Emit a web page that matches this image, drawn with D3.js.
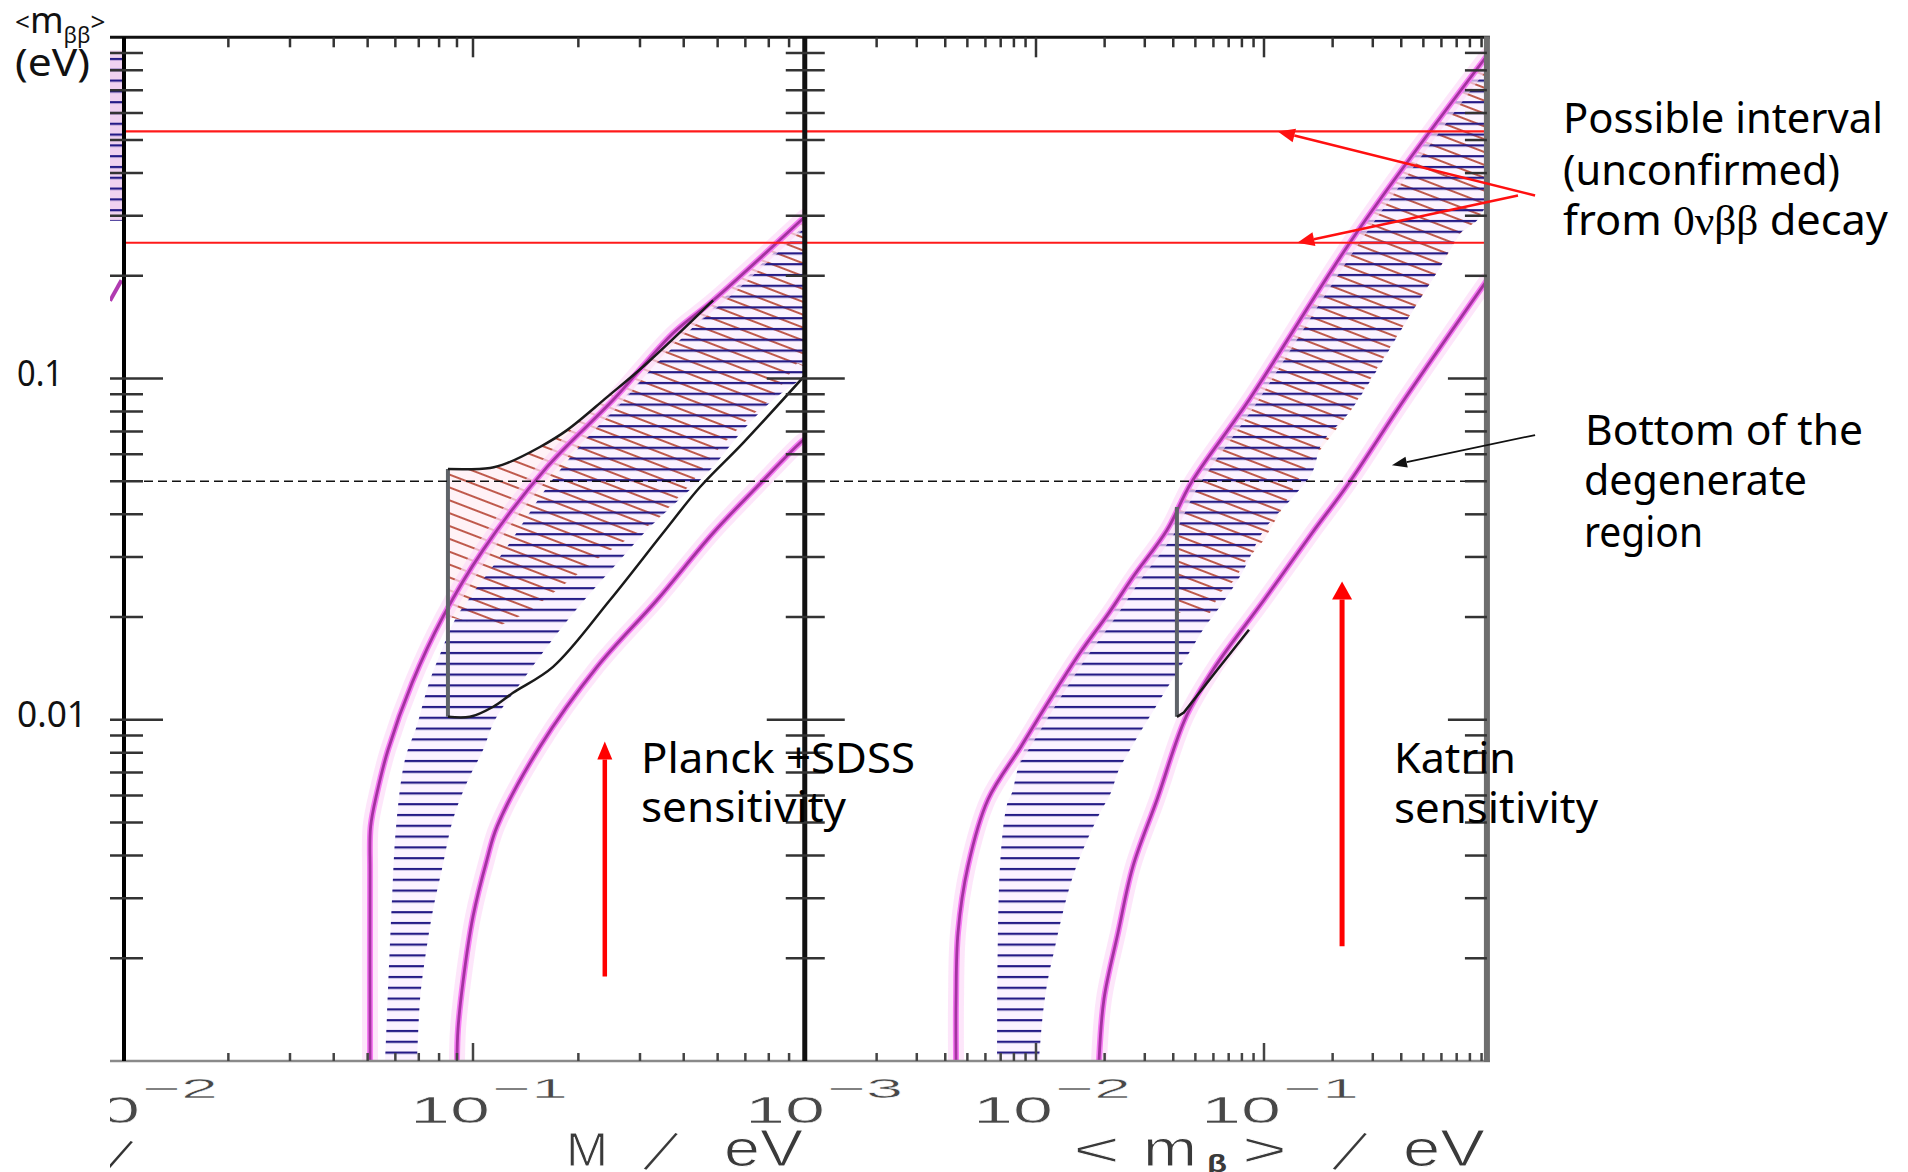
<!DOCTYPE html>
<html>
<head>
<meta charset="utf-8">
<script src="https://cdn.jsdelivr.net/npm/d3@7/dist/d3.min.js"></script>
<style>
html,body{margin:0;padding:0;background:#fff;}
svg{display:block;}
</style>
</head>
<body>
<svg id="chart" width="1908" height="1172"></svg>
<script>
// ================= DATA =================
// axis domains
const yDomain = [0.001, 1];
const leftXDomain = [0.01, 1];
const rightXDomain = [0.001, 1];
const leftPanelMax = 0.887;   // visible end of left panel (M / eV)
const rightPanelMax = 0.95;   // visible end of right panel (<m_beta> / eV)

// tick values
const tickMultipliers = [1, 2, 3, 4, 5, 6, 7, 8, 9];
const leftXDecades = [0.01, 0.1];
const rightXDecades = [0.001, 0.01, 0.1];
const yDecades = [0.001, 0.01, 0.1];
const leftXLabelValues = [0.01, 0.1];
const leftXLabelExp = ["\u22122", "\u22121"];
const rightXLabelValues = [0.001, 0.01, 0.1];
const rightXLabelExp = ["\u22123", "\u22122", "\u22121"];
const yLabelValues = [0.1, 0.01];
const yLabelTexts = ["0.1", "0.01"];

// horizontal reference values
const intervalValues = [0.25, 0.53];     // possible 0vbb interval
const degenerateBottom = 0.05;

// ---- left panel (x = M / eV, y = <m_bb> / eV) ----
const nhUpperL = [[0.0508,0.001],[0.0508,0.0035],[0.0510,0.00487],[0.0532,0.00612],[0.0572,0.00817],[0.0670,0.01283],[0.0821,0.02005],[0.1069,0.03147],[0.1626,0.0550],[0.2512,0.08649],[0.3727,0.1358],[0.4853,0.1694],[0.889,0.2985]];
const nhLowerL = [[0.0900,0.001],[0.0906,0.00124],[0.0936,0.00170],[0.1,0.00265],[0.1097,0.0039],[0.1172,0.00487],[0.1553,0.00834],[0.2262,0.01429],[0.3356,0.02244],[0.4853,0.03527],[0.6473,0.04809],[0.859,0.06469],[0.889,0.0665]];
const ihMinL = [[0.0848,0.0543],[0.0848,0.0102]];
const ihTopL = [[0.0848,0.0543],[0.1119,0.0547],[0.125,0.0565],[0.1553,0.063],[0.1857,0.0706],[0.2415,0.0882],[0.3141,0.1109],[0.4853,0.1694]];
const ihBottomL = [[0.0848,0.0102],[0.098,0.0102],[0.1142,0.01092],[0.1301,0.012],[0.1693,0.01429],[0.2463,0.02244],[0.349,0.03527],[0.4453,0.04809],[0.5905,0.06469],[0.889,0.1023]];
const hatchLeftEdgeL = [[0.0561,0.001],[0.0587,0.00298],[0.0603,0.00487],[0.0639,0.00764],[0.0688,0.00947],[0.0749,0.01283],[0.0815,0.01603],[0.0888,0.01963],[0.0993,0.02323],[0.1234,0.03147],[0.1773,0.05396],[0.4165,0.1385],[0.889,0.281]];
const hatchRightEdgeL = [[0.0692,0.001],[0.0706,0.00152],[0.0729,0.00199],[0.0769,0.00278],[0.0815,0.00364],[0.0877,0.00511],[0.0961,0.00655],[0.1069,0.00817],[0.1156,0.0100],[0.139,0.0131],[0.1773,0.01836],[0.2203,0.02399],[0.263,0.02941],[0.3141,0.03598],[0.3606,0.04117],[0.4757,0.05396],[0.5905,0.0706],[0.7197,0.08649],[0.9001,0.1023]];
const redTopL = [[0.0848,0.0543],[0.1119,0.0547],[0.125,0.0565],[0.1553,0.063],[0.1857,0.0706],[0.2415,0.0882],[0.3141,0.1109],[0.4853,0.1694],[0.889,0.2985]];
const redLowerEdgeL = [[0.889,0.108],[0.8433,0.1109],[0.7197,0.0882],[0.6182,0.0771],[0.5079,0.063],[0.4165,0.04875],[0.3356,0.03849],[0.2306,0.03],[0.1426,0.02057],[0.1292,0.01963],[0.1156,0.01859],[0.0848,0.02005]];
// cropped neighbouring panel visible at the far left
const neighbourBandX = [0.00918, 0.00995];
const neighbourBandY = [0.29, 0.914];
const neighbourCurve = [[0.00918,0.169],[0.0099,0.194]];

// ---- right panel (x = <m_beta> / eV) ----
const nhUpperR = [[0.00446,0.001],[0.00446,0.00152],[0.00455,0.00238],[0.00503,0.00372],[0.00616,0.00584],[0.00859,0.00834],[0.01151,0.01146],[0.0156,0.01571],[0.02089,0.02057],[0.02662,0.0262],[0.03756,0.03598],[0.04786,0.04943],[0.08593,0.08649],[0.2535,0.2662],[0.9505,0.883]];
const nhLowerR = [[0.0189,0.001],[0.01987,0.00152],[0.02291,0.00238],[0.02662,0.00372],[0.03396,0.00584],[0.0455,0.0102],[0.06095,0.01429],[0.1,0.02244],[0.1625,0.03527],[0.2359,0.04943],[0.4109,0.08649],[0.9505,0.194]];
const ihMinR = [[0.0415,0.042],[0.0415,0.0102]];
const ihBottomR = [[0.0415,0.0102],[0.0445,0.0105],[0.06095,0.01374],[0.08593,0.01836]];
const hatchLeftEdgeR = [[0.00675,0.001],[0.00695,0.00372],[0.00746,0.00565],[0.00785,0.00612],[0.00826,0.00705],[0.00886,0.00817],[0.01151,0.01146],[0.0156,0.01571],[0.02089,0.02057],[0.02662,0.0262],[0.03756,0.03598],[0.04786,0.04943],[0.08593,0.08649],[0.2535,0.2662],[0.9505,0.883]];
const hatchRightEdgeR = [[0.0103,0.001],[0.01074,0.00139],[0.01129,0.00174],[0.01211,0.00215],[0.01274,0.00251],[0.01438,0.00341],[0.01625,0.00423],[0.0189,0.00527],[0.02133,0.00612],[0.02291,0.00705],[0.02585,0.00817],[0.02944,0.00947],[0.03396,0.01107],[0.03831,0.01265],[0.0415,0.01374],[0.04786,0.01603],[0.054,0.01836],[0.06412,0.02143],[0.0801,0.02692],[0.1,0.03598],[0.134,0.04493],[0.1625,0.05289],[0.1797,0.06469],[0.2408,0.08078],[0.4505,0.1585],[0.5916,0.2118],[0.7238,0.2662],[0.8595,0.2906],[0.9505,0.3259]];
const redTopR = [[0.0415,0.042],[0.04786,0.04943],[0.08593,0.08649],[0.2535,0.2662],[0.9505,0.883]];
const redLowerEdgeR = [[0.9505,0.3259],[0.8595,0.2906],[0.7238,0.2662],[0.5916,0.2118],[0.4505,0.1585],[0.2408,0.08078],[0.1483,0.05321],[0.1211,0.042],[0.1,0.03366],[0.0817,0.02882],[0.07461,0.0257],[0.06412,0.02355],[0.05796,0.02057],[0.0415,0.02057]];

// annotation arrows (data coordinates of the panel they sit on)
const planckArrow = [[0.238,0.00177],[0.238,0.00863]];      // left panel
const katrinArrow = [[0.22,0.00217],[0.22,0.0254]];         // right panel
const intervalArrows = [[[1.545,0.344],[0.115,0.53]], [[1.30,0.344],[0.14,0.25]]]; // right panel coords
const degenerateArrow = [[1.545,0.0683],[0.364,0.0557]];    // right panel coords

// ================= LAYOUT / SCALES =================
const svg = d3.select("#chart");
const y  = d3.scaleLog().domain(yDomain).range([1061, 37.3]);
const xL = d3.scaleLog().domain(leftXDomain).range([123, 823]);
const xR = d3.scaleLog().domain(rightXDomain).range([808, 1492]);
const TOP = y(1), BOT = y(0.001);
const LEFT = xL(0.01) + 1, MID = xL(leftPanelMax), RIGHT = xR(rightPanelMax);
const STRIP = 110;

const defs = svg.append("defs");
defs.append("clipPath").attr("id","clipL").append("rect").attr("x",LEFT).attr("y",TOP).attr("width",MID-LEFT).attr("height",BOT-TOP);
defs.append("clipPath").attr("id","clipR").append("rect").attr("x",MID).attr("y",TOP).attr("width",RIGHT-MID).attr("height",BOT-TOP);
defs.append("clipPath").attr("id","clipN").append("rect").attr("x",STRIP).attr("y",TOP).attr("width",LEFT-STRIP).attr("height",BOT-TOP);
defs.append("clipPath").attr("id","clipLab").append("rect").attr("x",STRIP).attr("y",0).attr("width",1908-STRIP).attr("height",1172);

const pB = defs.append("pattern").attr("id","hatchBlue").attr("patternUnits","userSpaceOnUse").attr("width",60).attr("height",10.8);
pB.append("line").attr("x1",0).attr("x2",60).attr("y1",5).attr("y2",5).attr("stroke","#241a86").attr("stroke-width",2.3);
const pR = defs.append("pattern").attr("id","hatchRed").attr("patternUnits","userSpaceOnUse").attr("width",60).attr("height",12).attr("patternTransform","rotate(21)");
pR.append("line").attr("x1",0).attr("x2",60).attr("y1",6).attr("y2",6).attr("stroke","#bf5a4c").attr("stroke-width",2);

const lineOf = (xs, curve) => d3.line().x(d => xs(d[0])).y(d => y(d[1])).curve(curve || d3.curveCatmullRom.alpha(0.5));
function regionBetween(xs, a, b){
  const p1 = lineOf(xs)(a);
  const p2 = lineOf(xs)(b.slice().reverse());
  return p1 + "L" + p2.slice(1) + "Z";
}
function regionSegments(xs, segs){
  return segs.map((s,i) => { const p = lineOf(xs, s.curve)(s.pts); return i === 0 ? p : "L" + p.slice(1); }).join("") + "Z";
}
function glowCurve(g, xs, pts){
  const d = lineOf(xs)(pts);
  g.append("path").attr("d",d).attr("fill","none").attr("stroke","#fcdcf8").attr("stroke-width",16).attr("stroke-opacity",0.7).attr("stroke-linecap","round");
  g.append("path").attr("d",d).attr("fill","none").attr("stroke","#f57af2").attr("stroke-width",6);
  g.append("path").attr("d",d).attr("fill","none").attr("stroke","#a3339f").attr("stroke-width",2.8);
}
function blackLine(g, xs, pts, color, w, curve){
  g.append("path").attr("d",lineOf(xs,curve)(pts)).attr("fill","none").attr("stroke",color||"#1a1a1a").attr("stroke-width",w||2.5);
}

// ================= PANELS =================
function drawPanel(id, xs, P){
  const g = svg.append("g").attr("clip-path",`url(#${id})`);
  const red = regionSegments(xs, [{pts:P.redTop},{pts:P.redLower, curve:d3.curveLinear}]);
  g.append("path").attr("d",red).attr("fill","#fff2f6");
  const blue = regionBetween(xs, P.hatchLeft, P.hatchRight);
  g.append("path").attr("d",blue).attr("fill","#fbf3ff");
  g.append("path").attr("d",red).attr("fill","url(#hatchRed)");
  g.append("path").attr("d",blue).attr("fill","url(#hatchBlue)");
  glowCurve(g, xs, P.nhUpper);
  glowCurve(g, xs, P.nhLower);
  blackLine(g, xs, P.ihMin, "#5f6368", 4, d3.curveLinear);
  if (P.ihTop) blackLine(g, xs, P.ihTop);
  blackLine(g, xs, P.ihBottom, "#1a1a1a", 2.5, P.ihBottomCurve);
  return g;
}
drawPanel("clipL", xL, {redTop:redTopL, redLower:redLowerEdgeL, hatchLeft:hatchLeftEdgeL, hatchRight:hatchRightEdgeL,
  nhUpper:nhUpperL, nhLower:nhLowerL, ihMin:ihMinL, ihTop:ihTopL, ihBottom:ihBottomL});
drawPanel("clipR", xR, {redTop:redTopR, redLower:redLowerEdgeR, hatchLeft:hatchLeftEdgeR, hatchRight:hatchRightEdgeR,
  nhUpper:nhUpperR, nhLower:nhLowerR, ihMin:ihMinR, ihTop:null, ihBottom:ihBottomR, ihBottomCurve:d3.curveLinear});

// cropped neighbour panel strip
const gN = svg.append("g").attr("clip-path","url(#clipN)");
gN.append("rect").attr("x",xL(neighbourBandX[0])).attr("y",y(neighbourBandY[1]))
  .attr("width",xL(neighbourBandX[1])-xL(neighbourBandX[0])).attr("height",y(neighbourBandY[0])-y(neighbourBandY[1]))
  .attr("fill","#f0d2f0");
gN.append("rect").attr("x",xL(neighbourBandX[0])).attr("y",y(neighbourBandY[1]))
  .attr("width",xL(neighbourBandX[1])-xL(neighbourBandX[0])).attr("height",y(neighbourBandY[0])-y(neighbourBandY[1]))
  .attr("fill","url(#hatchBlue)");
gN.append("path").attr("d",lineOf(xL,d3.curveLinear)(neighbourCurve)).attr("stroke","#b03ab0").attr("stroke-width",4).attr("fill","none");

// ================= REFERENCE LINES =================
const gRef = svg.append("g");
gRef.append("line").attr("x1",LEFT+6).attr("x2",RIGHT).attr("y1",y(degenerateBottom)).attr("y2",y(degenerateBottom))
  .attr("stroke","#111").attr("stroke-width",1.6).attr("stroke-dasharray","9,5");
intervalValues.forEach(v => {
  gRef.append("line").attr("x1",LEFT+1).attr("x2",RIGHT).attr("y1",y(v)).attr("y2",y(v))
    .attr("stroke","#ff1a1a").attr("stroke-width",2.2);
});

// ================= FRAMES & TICKS =================
const gAx = svg.append("g");
gAx.append("line").attr("x1",STRIP).attr("x2",RIGHT+3).attr("y1",TOP).attr("y2",TOP).attr("stroke","#111").attr("stroke-width",3);
gAx.append("line").attr("x1",STRIP).attr("x2",RIGHT+3).attr("y1",BOT).attr("y2",BOT).attr("stroke","#8a8a8a").attr("stroke-width",2.5);
gAx.append("line").attr("x1",LEFT).attr("x2",LEFT).attr("y1",TOP).attr("y2",BOT).attr("stroke","#000").attr("stroke-width",4);
gAx.append("line").attr("x1",MID).attr("x2",MID).attr("y1",TOP).attr("y2",BOT).attr("stroke","#111").attr("stroke-width",5);
gAx.append("line").attr("x1",RIGHT).attr("x2",RIGHT).attr("y1",TOP-1).attr("y2",BOT+1).attr("stroke","#6e6e6e").attr("stroke-width",6);

function tickList(decades, maxV){
  const out = [];
  decades.forEach(d => tickMultipliers.forEach(k => { const v = d*k; if (v <= maxV*1.0001) out.push({v, major:k===1}); }));
  return out;
}
function xTicks(xs, decades, maxV){
  tickList(decades, maxV).forEach(t => {
    const X = xs(t.v);
    if (X < LEFT+3 || (xs === xR && X < MID+4)) return;
    gAx.append("line").attr("x1",X).attr("x2",X).attr("y1",TOP).attr("y2",TOP+(t.major?20:10)).attr("stroke","#333").attr("stroke-width",2.5);
    gAx.append("line").attr("x1",X).attr("x2",X).attr("y1",BOT).attr("y2",BOT-(t.major?18:8)).attr("stroke","#444").attr("stroke-width",2.5);
  });
}
xTicks(xL, leftXDecades, leftPanelMax);
xTicks(xR, rightXDecades, rightPanelMax);

tickList(yDecades, 1).forEach(t => {
  if (t.v <= 0.001) return;
  const Y = y(t.v);
  gAx.append("line").attr("x1",LEFT-14).attr("x2",LEFT+(t.major?39:19)).attr("y1",Y).attr("y2",Y).attr("stroke","#333").attr("stroke-width",2.5);
  gAx.append("line").attr("x1",MID-(t.major?38:19)).attr("x2",MID+(t.major?40:20)).attr("y1",Y).attr("y2",Y).attr("stroke","#333").attr("stroke-width",2.5);
  gAx.append("line").attr("x1",RIGHT-(t.major?39:22)).attr("x2",RIGHT).attr("y1",Y).attr("y2",Y).attr("stroke","#333").attr("stroke-width",2.5);
});

// ================= TICK LABELS =================
const gLab = svg.append("g").attr("clip-path","url(#clipLab)").attr("font-family","'Liberation Sans', Arial, sans-serif")
  .attr("fill","#484848").attr("stroke","#fff").attr("stroke-width",0.5);
function xLabels(xs, vals, exps){
  vals.forEach((v,i) => {
    const X = xs(v);
    gLab.append("text").attr("x",X-63).attr("y",1123).attr("font-size",36).attr("textLength",80).attr("lengthAdjust","spacingAndGlyphs").text("10");
    gLab.append("text").attr("x",X+19).attr("y",1098).attr("font-size",28).attr("textLength",76).attr("lengthAdjust","spacingAndGlyphs").text(exps[i]);
  });
}
xLabels(xL, leftXLabelValues, leftXLabelExp);
xLabels(xR, rightXLabelValues, rightXLabelExp);
// cropped tail of the neighbouring panel's axis title
gLab.append("text").attr("x",118).attr("y",1175).attr("font-size",66).attr("text-anchor","middle").attr("stroke","#fff").attr("stroke-width",2.4).attr("fill","#333")
  .attr("transform","rotate(26,100,1151)").text("/");

// axis titles
const gT = svg.append("g").attr("font-family","'Liberation Sans', Arial, sans-serif").attr("fill","#3a3a3a").attr("stroke","#fff").attr("stroke-width",1);
function piece(t, x, yb, w, fs){ return gT.append("text").attr("x",x).attr("y",yb).attr("font-size",fs).attr("textLength",w).attr("lengthAdjust","spacingAndGlyphs").text(t); }
function slash(cx, cy){
  gT.append("text").attr("x",cx).attr("y",cy+24).attr("font-size",66).attr("text-anchor","middle").attr("stroke","#fff").attr("stroke-width",2.4)
    .attr("transform",`rotate(26,${cx},${cy})`).text("/");
}
piece("M", 566, 1166, 42, 48);
slash(661, 1151);
piece("eV", 724, 1166, 79, 52);
piece("<", 1073, 1166, 47, 48);
piece("m", 1143, 1166, 54, 52);
piece("\u03b2", 1207, 1172, 20, 24).attr("stroke","none").attr("font-weight","bold");
piece(">", 1242, 1166, 45, 48);
slash(1350, 1151);
piece("eV", 1403, 1166, 82, 52);

// y labels
const gY = svg.append("g").attr("font-family","'Noto Sans', sans-serif").attr("fill","#111");
yLabelValues.forEach((v,i) => {
  gY.append("text").attr("x",17).attr("y",y(v)+7).attr("font-size",37).attr("textLength",i===0?46:70).attr("lengthAdjust","spacingAndGlyphs").text(yLabelTexts[i]);
});
const yt = gY.append("text").attr("x",15).attr("y",33).attr("font-size",36);
yt.append("tspan").attr("font-size",26).attr("dy",-2).text("<");
yt.append("tspan").attr("dy",2).text("m");
yt.append("tspan").attr("font-size",22).attr("dy",10).text("\u03b2\u03b2");
yt.append("tspan").attr("font-size",26).attr("dy",-12).text(">");
gY.append("text").attr("x",15).attr("y",76).attr("font-size",38).attr("textLength",75).attr("lengthAdjust","spacingAndGlyphs").text("(eV)");

// ================= ANNOTATIONS =================
const gA = svg.append("g");
function arrow(x1,y1,x2,y2,color,w,hl,hw){
  const ang = Math.atan2(y2-y1, x2-x1);
  const bx = x2 - hl*Math.cos(ang), by = y2 - hl*Math.sin(ang);
  gA.append("line").attr("x1",x1).attr("y1",y1).attr("x2",bx).attr("y2",by).attr("stroke",color).attr("stroke-width",w);
  const px = -Math.sin(ang)*hw/2, py = Math.cos(ang)*hw/2;
  gA.append("path").attr("d",`M${x2},${y2}L${bx+px},${by+py}L${bx-px},${by-py}Z`).attr("fill",color);
}
arrow(xL(planckArrow[0][0]), y(planckArrow[0][1]), xL(planckArrow[1][0]), y(planckArrow[1][1]), "#ff0000", 4.5, 18, 15);
arrow(xR(katrinArrow[0][0]), y(katrinArrow[0][1]), xR(katrinArrow[1][0]), y(katrinArrow[1][1]), "#ff0000", 5, 18, 20);
intervalArrows.forEach(a => arrow(xR(a[0][0]), y(a[0][1]), xR(a[1][0]), y(a[1][1]), "#ff1010", 2.5, 17, 14));
arrow(xR(degenerateArrow[0][0]), y(degenerateArrow[0][1]), xR(degenerateArrow[1][0]), y(degenerateArrow[1][1]), "#111", 1.8, 15, 11);

const gTxt = svg.append("g").attr("font-family","'Noto Sans', sans-serif").attr("fill","#000").attr("font-size",42);
const notes = [
  ["Possible interval", 1563, 133, 320],
  ["(unconfirmed)", 1563, 185, 277],
  ["Bottom of the", 1585, 445, 278],
  ["degenerate", 1584, 495, 223],
  ["region", 1584, 547, 119],
  ["Planck +SDSS", 641, 773, 274],
  ["sensitivity", 641, 822, 205],
  ["Katrin", 1394, 773, 122],
  ["sensitivity", 1394, 823, 204]
];
notes.forEach(n => gTxt.append("text").attr("x",n[1]).attr("y",n[2]).attr("textLength",n[3]).attr("lengthAdjust","spacingAndGlyphs").text(n[0]));
const ft = gTxt.append("text").attr("x",1563).attr("y",235).attr("textLength",325).attr("lengthAdjust","spacingAndGlyphs");
ft.append("tspan").text("from ");
ft.append("tspan").attr("font-family","'Liberation Serif', 'DejaVu Serif', serif").text("0\u03bd\u03b2\u03b2");
ft.append("tspan").text(" decay");
</script>
</body>
</html>
